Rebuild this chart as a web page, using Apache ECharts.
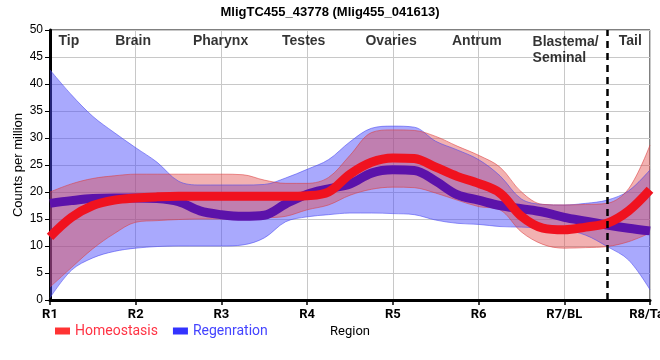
<!DOCTYPE html>
<html><head><meta charset="utf-8">
<script src="https://cdn.jsdelivr.net/npm/echarts@6/dist/echarts.min.js"></script>
<style>html,body{margin:0;padding:0;background:#fff}#c{width:660px;height:360px}</style>
</head><body><div id="c"></div>
<script>
var categories = ['R1','R2','R3','R4','R5','R6','R7/BL','R8/Tail'];
var regionNames = ['Tip','Brain','Pharynx','Testes','Ovaries','Antrum','Blastema/\nSeminal','Tail'];
var yTicks = [0,5,10,15,20,25,30,35,40,45,50];
// sample positions along the region axis (category index units, quarter steps)
var xPos = [0,0.25,0.5,0.75,1,1.25,1.5,1.75,2,2.25,2.5,2.75,3,3.25,3.5,3.75,4,4.25,4.5,4.75,5,5.25,5.5,5.75,6,6.25,6.5,6.75,7];
var homeoMean  = [11.7,15.3,17.5,18.5,18.9,19.1,19.2,19.2,19.2,19.2,19.2,19.2,19.3,20.0,23.3,25.5,26.3,26.2,24.6,22.9,21.6,19.8,15.5,13.3,13.0,13.5,14.2,16.5,20.4];
var homeoUpper = [20.0,21.5,22.5,23.0,23.3,23.3,23.3,23.3,23.3,23.2,22.2,21.6,21.6,22.7,26.8,31.0,31.5,31.4,30.3,28.5,26.8,24.6,20.0,17.7,17.6,17.7,17.9,20.6,28.7];
var homeoLower = [2.4,6.0,9.5,12.3,14.4,14.7,14.9,15.0,15.0,15.0,15.2,15.5,16.7,17.6,19.4,20.5,20.9,20.8,19.8,18.5,17.3,16.7,12.6,10.3,9.6,9.7,9.9,10.8,12.4];
var regenMean  = [17.9,18.4,18.8,18.9,18.9,18.8,18.2,16.5,15.8,15.5,15.7,17.8,19.6,20.6,21.5,23.5,24.1,24.0,22.0,19.5,18.5,17.5,16.9,16.3,15.3,14.6,13.9,13.3,12.8];
var regenUpper = [42.6,38.0,34.0,31.0,28.2,25.5,22.0,21.3,21.3,21.3,21.4,22.6,24.2,26.0,29.3,31.8,32.2,32.0,29.4,27.8,26.0,23.0,18.7,17.7,17.6,17.9,18.5,20.2,24.1];
var regenLower = [0.4,5.5,7.8,9.0,9.6,9.9,10.0,10.0,10.0,10.2,11.5,14.5,15.4,15.8,16.1,16.1,16.0,15.8,14.8,14.2,14.0,13.6,13.5,13.3,13.0,12.0,9.9,7.4,1.9];
var regionLabelPos = [0.22,0.97,1.99,2.96,3.98,4.98,5.63,6.77];
var regionLabelY = 48.0;
var dividerPos = 6.5;

var STEP = 4; // samples per category
function diffs(up, lo){ return up.map(function(u,i){ return +(u-lo[i]).toFixed(2); }); }

var SM = 0.35;
function band(name, stack, lo, up, fill, edge){
  return [
    {name:name+'_lo', type:'line', stack:stack, data:lo.slice(), symbol:'none', smooth:SM,
     lineStyle:{width:1, color:edge}, silent:true},
    {name:name+'_hi', type:'line', stack:stack, data:diffs(up,lo), symbol:'none', smooth:SM,
     lineStyle:{width:1, color:edge}, areaStyle:{color:fill, opacity:1}, silent:true}
  ];
}

var series = [];
series = series.concat(band('regenBand','rb',regenLower,regenUpper,'rgba(75,75,250,0.48)','rgba(70,70,240,0.55)'));
series = series.concat(band('homeoBand','hb',homeoLower,homeoUpper,'rgba(225,70,70,0.42)','rgba(220,60,60,0.55)'));
series.push({name:'Regenration', type:'line', data:regenMean, symbol:'none', smooth:SM,
  lineStyle:{width:9, color:'#5c12aa'}, itemStyle:{color:'#3333ff'}});
series.push({name:'Homeostasis', type:'line', data:homeoMean, symbol:'none', smooth:SM,
  lineStyle:{width:9, color:'#f0121f'}, itemStyle:{color:'#ff3333'}});
series.push({name:'regions', type:'scatter', xAxisIndex:1, symbolSize:0, silent:true,
  data: regionNames.map(function(n,i){ return {name:n, value:[regionLabelPos[i], regionLabelY],
    label:{align: i===6 ? 'left':'center', verticalAlign: i===6 ? 'top':'middle', offset: i===6 ? [0,-7]:[0,0]}}; }),
  label:{show:true, formatter:'{b}', fontWeight:'bold', fontSize:14, color:'#000',
    fontFamily:'Liberation Sans, Arial, sans-serif', lineHeight:16},
  markLine:{silent:true, symbol:'none', label:{show:false},
    lineStyle:{color:'#000', type:[7,5], width:2.5}, data:[{xAxis:dividerPos}]}});

function onTick(i){ return i % STEP === 0; }

var chart = echarts.init(document.getElementById('c'), null, {renderer:'canvas'});
chart.setOption({
  animation:false,
  backgroundColor:'#fff',
  title:{text:'MligTC455_43778 (Mlig455_041613)', left:'center', top:1,
    textStyle:{fontSize:13, fontWeight:'bold', color:'#000', fontFamily:'Liberation Sans, Arial, sans-serif'}},
  grid:{left:50, right:10, top:30, bottom:60, outerBoundsMode:'none', containLabel:false,
    show:true, borderColor:'#000', borderWidth:1, backgroundColor:'transparent'},
  legend:{data:[{name:'Homeostasis', textStyle:{color:'#ff3344'}}, {name:'Regenration', textStyle:{color:'#4444ff'}}],
    left:50, top:319, icon:'rect', itemWidth:15, itemHeight:7, itemGap:15,
    textStyle:{fontSize:14, fontFamily:'Roboto, Liberation Sans, sans-serif'}},
  xAxis:[{type:'category', boundaryGap:false, data:xPos.map(String), name:'Region', nameLocation:'middle', nameGap:25,
    nameMoveOverlap:false,
    nameTextStyle:{color:'#000', fontSize:13, fontFamily:'Roboto, Liberation Sans, sans-serif'},
    axisLine:{lineStyle:{color:'#000', width:3}},
    axisTick:{show:true, length:5, interval:function(i){ return onTick(i); }, lineStyle:{color:'#000', width:1.5}},
    axisLabel:{interval:0, formatter:function(v,i){ return onTick(i) ? categories[i/STEP] : ''; }, color:'#000', fontSize:13,
      fontWeight:'bold', margin:8, fontFamily:'Roboto, Liberation Sans, sans-serif'},
    splitLine:{show:true, interval:function(i){ return onTick(i); }, lineStyle:{color:'#c8c8c8', width:1}}},
    {type:'value', min:0, max:7, show:false}],
  yAxis:{type:'value', min:yTicks[0], max:yTicks[yTicks.length-1], interval:5, name:'Counts per million',
    nameLocation:'middle', nameGap:25, nameMoveOverlap:false,
    nameTextStyle:{color:'#000', fontSize:13, fontFamily:'Liberation Sans, Arial, sans-serif'},
    axisLine:{show:true, lineStyle:{color:'#000', width:3}},
    axisTick:{show:true, length:5, lineStyle:{color:'#000', width:1}},
    axisLabel:{color:'#000', fontSize:12, margin:7, fontFamily:'Liberation Sans, Arial, sans-serif'},
    splitLine:{show:true, lineStyle:{color:'#c8c8c8', width:1}}},
  series:series
});
</script></body></html>
